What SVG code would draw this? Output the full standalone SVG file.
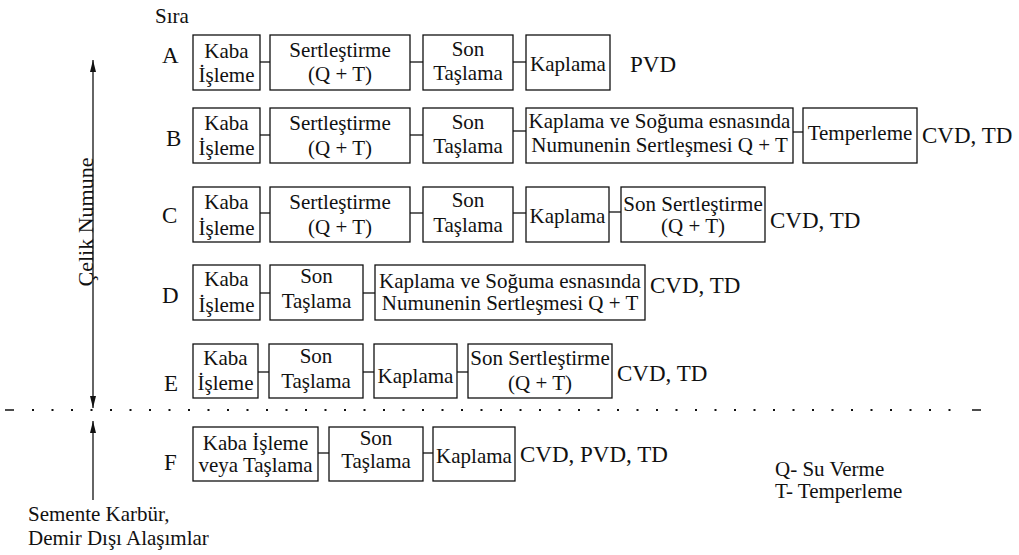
<svg xmlns="http://www.w3.org/2000/svg" width="1019" height="555" viewBox="0 0 1019 555" font-family="'Liberation Serif', serif">
<defs>
<style>
.box{fill:#fff;stroke:#111;stroke-width:1.3}
.t{font-family:'Liberation Serif',serif;font-size:21px;fill:#111;text-anchor:middle}
.lab{font-family:'Liberation Serif',serif;font-size:23px;fill:#111}
.sm{font-family:'Liberation Serif',serif;font-size:21px;fill:#111}
.c{stroke:#111;stroke-width:1.3;fill:none}
</style>
<marker id="ah" markerUnits="userSpaceOnUse" markerWidth="12" markerHeight="6" refX="12" refY="3" orient="auto-start-reverse">
<path d="M0,0 L12,3 L0,6 z" fill="#111"/>
</marker>
</defs>
<rect width="1019" height="555" fill="#fff"/>

<text class="sm" x="155" y="23">Sıra</text>

<!-- Row labels -->
<g id="row-labels">
<text class="lab" x="162" y="63">A</text>
<text class="lab" x="166" y="146">B</text>
<text class="lab" x="162" y="223">C</text>
<text class="lab" x="162" y="303">D</text>
<text class="lab" x="164" y="391">E</text>
<text class="lab" x="164" y="470">F</text>
</g>

<!-- Connectors -->
<g id="connectors">
<line class="c" x1="260" y1="62" x2="270" y2="62"/>
<line class="c" x1="410" y1="62" x2="423" y2="62"/>
<line class="c" x1="513" y1="62" x2="526" y2="62"/>
<line class="c" x1="260" y1="135" x2="270" y2="135"/>
<line class="c" x1="410" y1="135" x2="423" y2="135"/>
<line class="c" x1="513" y1="131" x2="526" y2="131"/>
<line class="c" x1="793" y1="132" x2="803" y2="132"/>
<line class="c" x1="260" y1="213" x2="270" y2="213"/>
<line class="c" x1="410" y1="213" x2="423" y2="213"/>
<line class="c" x1="513" y1="213" x2="526" y2="213"/>
<line class="c" x1="609" y1="212" x2="621" y2="212"/>
<line class="c" x1="260" y1="293" x2="270" y2="293"/>
<line class="c" x1="363" y1="293" x2="375" y2="293"/>
<line class="c" x1="258" y1="372" x2="269" y2="372"/>
<line class="c" x1="363" y1="372" x2="374" y2="372"/>
<line class="c" x1="457" y1="372" x2="468" y2="372"/>
<line class="c" x1="318" y1="453" x2="329" y2="453"/>
<line class="c" x1="423" y1="453" x2="433" y2="453"/>
</g>

<!-- Axes and separator -->
<g id="axes">
<line class="c" x1="93" y1="60" x2="93" y2="408" marker-start="url(#ah)" marker-end="url(#ah)"/>
<line class="c" x1="93" y1="421" x2="93" y2="500" marker-start="url(#ah)"/>
<line x1="5" y1="410" x2="14" y2="410" stroke="#111" stroke-width="1.5"/>
<line x1="32" y1="410" x2="968" y2="410" stroke="#111" stroke-width="1.8" stroke-dasharray="2 17.5"/>
<line x1="972" y1="410" x2="981" y2="410" stroke="#111" stroke-width="1.5"/>
<text class="sm" transform="translate(93,222) rotate(-90)" text-anchor="middle" style="font-size:22px">Çelik Numune</text>
</g>

<!-- Row A -->
<g id="A1"><rect class="box" x="193" y="35" width="67" height="55"/><text class="t" x="226.5" y="58">Kaba</text><text class="t" x="226.5" y="82">İşleme</text></g>
<g id="A2"><rect class="box" x="270" y="35" width="140" height="55"/><text class="t" x="340" y="57">Sertleştirme</text><text class="t" x="340" y="81">(Q + T)</text></g>
<g id="A3"><rect class="box" x="423" y="35" width="90" height="55"/><text class="t" x="468" y="56">Son</text><text class="t" x="468" y="80">Taşlama</text></g>
<g id="A4"><rect class="box" x="526" y="35" width="84" height="55"/><text class="t" x="568" y="71">Kaplama</text></g>
<text class="lab" x="630" y="72">PVD</text>

<!-- Row B -->
<g id="B1"><rect class="box" x="193" y="108" width="67" height="55"/><text class="t" x="226.5" y="130">Kaba</text><text class="t" x="226.5" y="155">İşleme</text></g>
<g id="B2"><rect class="box" x="270" y="108" width="140" height="55"/><text class="t" x="340" y="130">Sertleştirme</text><text class="t" x="340" y="155">(Q + T)</text></g>
<g id="B3"><rect class="box" x="423" y="108" width="90" height="55"/><text class="t" x="468" y="129">Son</text><text class="t" x="468" y="153">Taşlama</text></g>
<g id="B4"><rect class="box" x="526" y="108" width="267" height="55"/><text class="t" x="659.5" y="128">Kaplama ve Soğuma esnasında</text><text class="t" x="659.5" y="152">Numunenin Sertleşmesi Q + T</text></g>
<g id="B5"><rect class="box" x="803" y="108" width="114" height="55"/><text class="t" x="860" y="140">Temperleme</text></g>
<text class="lab" x="922" y="143">CVD, TD</text>

<!-- Row C -->
<g id="C1"><rect class="box" x="193" y="187" width="67" height="55"/><text class="t" x="226.5" y="209">Kaba</text><text class="t" x="226.5" y="235">İşleme</text></g>
<g id="C2"><rect class="box" x="270" y="187" width="140" height="55"/><text class="t" x="340" y="209">Sertleştirme</text><text class="t" x="340" y="234">(Q + T)</text></g>
<g id="C3"><rect class="box" x="423" y="187" width="90" height="55"/><text class="t" x="468" y="207">Son</text><text class="t" x="468" y="232">Taşlama</text></g>
<g id="C4"><rect class="box" x="526" y="187" width="83" height="55"/><text class="t" x="567.5" y="223">Kaplama</text></g>
<g id="C5"><rect class="box" x="621" y="187" width="144" height="55"/><text class="t" x="693" y="211">Son Sertleştirme</text><text class="t" x="693" y="233">(Q + T)</text></g>
<text class="lab" x="770" y="228">CVD, TD</text>

<!-- Row D -->
<g id="D1"><rect class="box" x="193" y="265" width="67" height="55"/><text class="t" x="226.5" y="286">Kaba</text><text class="t" x="226.5" y="312">İşleme</text></g>
<g id="D2"><rect class="box" x="270" y="265" width="93" height="55"/><text class="t" x="316.5" y="283">Son</text><text class="t" x="316.5" y="308">Taşlama</text></g>
<g id="D3"><rect class="box" x="375" y="265" width="270" height="55"/><text class="t" x="510" y="288">Kaplama ve Soğuma esnasında</text><text class="t" x="510" y="310">Numunenin Sertleşmesi Q + T</text></g>
<text class="lab" x="650" y="293">CVD, TD</text>

<!-- Row E -->
<g id="E1"><rect class="box" x="193" y="344" width="65" height="54"/><text class="t" x="225.5" y="365">Kaba</text><text class="t" x="225.5" y="390">İşleme</text></g>
<g id="E2"><rect class="box" x="269" y="344" width="94" height="54"/><text class="t" x="316" y="363">Son</text><text class="t" x="316" y="388">Taşlama</text></g>
<g id="E3"><rect class="box" x="374" y="344" width="83" height="54"/><text class="t" x="415.5" y="383">Kaplama</text></g>
<g id="E4"><rect class="box" x="468" y="344" width="144" height="54"/><text class="t" x="540" y="365">Son Sertleştirme</text><text class="t" x="540" y="390">(Q + T)</text></g>
<text class="lab" x="617" y="381">CVD, TD</text>

<!-- Row F -->
<g id="F1"><rect class="box" x="193" y="427" width="125" height="54"/><text class="t" x="255.5" y="450">Kaba İşleme</text><text class="t" x="255.5" y="472">veya Taşlama</text></g>
<g id="F2"><rect class="box" x="329" y="427" width="94" height="54"/><text class="t" x="376" y="445">Son</text><text class="t" x="376" y="468">Taşlama</text></g>
<g id="F3"><rect class="box" x="433" y="427" width="82" height="54"/><text class="t" x="474" y="463">Kaplama</text></g>
<text class="lab" x="520" y="462">CVD, PVD, TD</text>

<!-- Legend -->
<g id="legend">
<text class="sm" x="775" y="476">Q- Su Verme</text>
<text class="sm" x="775" y="498">T- Temperleme</text>
</g>

<g id="bottom-label">
<text class="sm" x="28" y="521">Semente Karbür,</text>
<text class="sm" x="28" y="545">Demir Dışı Alaşımlar</text>
</g>
</svg>
